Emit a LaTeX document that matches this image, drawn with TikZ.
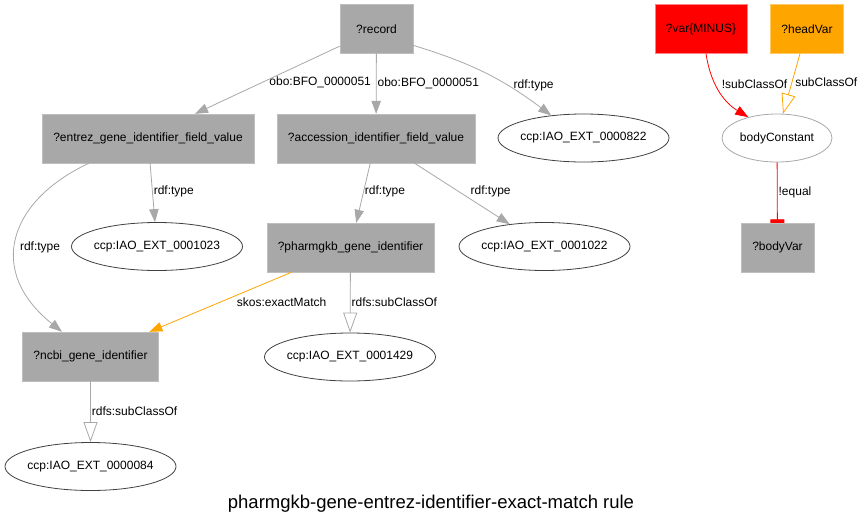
\documentclass[tikz,border=0pt]{standalone}
\usepackage{fontspec}
\setmainfont{Liberation Sans}
\usetikzlibrary{shapes,arrows.meta,positioning,calc}

\definecolor{boxgray}{HTML}{A8A8A8}
\definecolor{boxline}{HTML}{BEBEBE}
\definecolor{edgegray}{HTML}{A8A8A8}
\definecolor{ovalline}{HTML}{404040}
\definecolor{varred}{HTML}{FF0000}
\definecolor{varorange}{HTML}{FFA500}

\begin{document}
\begin{tikzpicture}[x=1pt, y=-1pt,
    font=\fontsize{12pt}{14pt}\selectfont,
    varbox/.style={draw=boxline, fill=boxgray, rectangle, minimum width=73pt, minimum height=49pt, inner xsep=11pt},
    classell/.style={draw=ovalline, ellipse, line width=0.8pt, minimum width=171pt, minimum height=48pt, inner xsep=-3pt, inner ysep=0pt},
    link/.style={draw=edgegray, line width=0.8pt, -{Triangle[length=13pt,width=9.5pt]}},
    sublink/.style={draw=edgegray, line width=0.8pt, -{Triangle[open,length=20pt,width=14pt]}},
    elabel/.style={inner sep=0pt, text=black}]
    \useasboundingbox (0,0) rectangle (862,528);

    \node (record) [varbox] at (376.5,29) {?record};
    \node (entrez) [varbox] at (148,138.5) {?entrez\_gene\_identifier\_field\_value};
    \node (accession) [varbox] at (376,138.5) {?accession\_identifier\_field\_value};
    \node (t822) [classell] at (583.5,138) {ccp:IAO\_EXT\_0000822};
    \node (t1023) [classell] at (157,246.5) {ccp:IAO\_EXT\_0001023};
    \node (pharmgkb) [varbox] at (350.5,247.5) {?pharmgkb\_gene\_identifier};
    \node (t1022) [classell] at (544.5,246.5) {ccp:IAO\_EXT\_0001022};
    \node (ncbi) [varbox] at (90.5,356.5) {?ncbi\_gene\_identifier};
    \node (t1429) [classell] at (350,357) {ccp:IAO\_EXT\_0001429};
    \node (t0084) [classell] at (90.5,466.5) {ccp:IAO\_EXT\_0000084};
    \node (minus) [varbox, fill=varred, draw=varred!50] at (701,29) {?var\{MINUS\}};
    \node (headvar) [varbox, fill=varorange, draw=varorange!60] at (807,29) {?headVar};
    \node (bodyconst) [classell, draw=edgegray, minimum width=110pt] at (777,138) {bodyConstant};
    \node (bodyvar) [varbox] at (777.5,247.5) {?bodyVar};
    \node (title) at (431,504) {\fontsize{18.5pt}{22pt}\selectfont pharmgkb-gene-entrez-identifier-exact-match rule};

    \draw [link] (record.205) -- node[elabel, pos=0.53, right=6pt] (l1) {obo:BFO\_0000051} ([xshift=47pt]entrez.north);
    \draw [link] (record) -- node[elabel, pos=0.5, right=1pt] (l2) {obo:BFO\_0000051} (accession);
    \draw [link] (record.-24) to[bend left=10] node[elabel, pos=0.67, right=6pt] (l3) {rdf:type} (t822.145);
    \draw [link] (entrez) -- node[elabel, pos=0.48, right=1pt] (l4) {rdf:type} (t1023);
    \draw [link] ([xshift=-59pt]entrez.south) .. controls (10,200) and (-15,270) .. node[elabel, pos=0.55, right=4pt] (l5) {rdf:type} ([xshift=-28.5pt]ncbi.north);
    \draw [link] (accession) -- node[elabel, pos=0.48, right=1pt] (l6) {rdf:type} (pharmgkb);
    \draw [link] (accession) -- node[elabel, pos=0.47, right=11pt] (l7) {rdf:type} (t1022);
    \draw [link, draw=varorange] (pharmgkb) -- node[elabel, pos=0.5, right=16pt] (l8) {skos:exactMatch} (ncbi);
    \draw [sublink] (pharmgkb) -- node[elabel, pos=0.5, right=1pt] (l9) {rdfs:subClassOf} (t1429);
    \draw [sublink] (ncbi) -- node[elabel, pos=0.5, right=1pt] (l10) {rdfs:subClassOf} (t0084);
    \draw [link, draw=varred] ([xshift=5pt]minus.south) to[bend right=25] node[elabel, pos=0.4, right=6pt] (l11) {!subClassOf} (bodyconst.144);
    \draw [sublink, draw=varorange] ([xshift=-7pt]headvar.south) -- node[elabel, pos=0.48, right=3pt] (l12) {subClassOf} (bodyconst.76);
    \draw [draw=varred, line width=0.8pt, -{Rectangle[length=3.5pt,width=14pt]}] (bodyconst) -- node[elabel, pos=0.5, right=1pt] (l13) {!equal} (bodyvar);
\end{tikzpicture}
\end{document}
